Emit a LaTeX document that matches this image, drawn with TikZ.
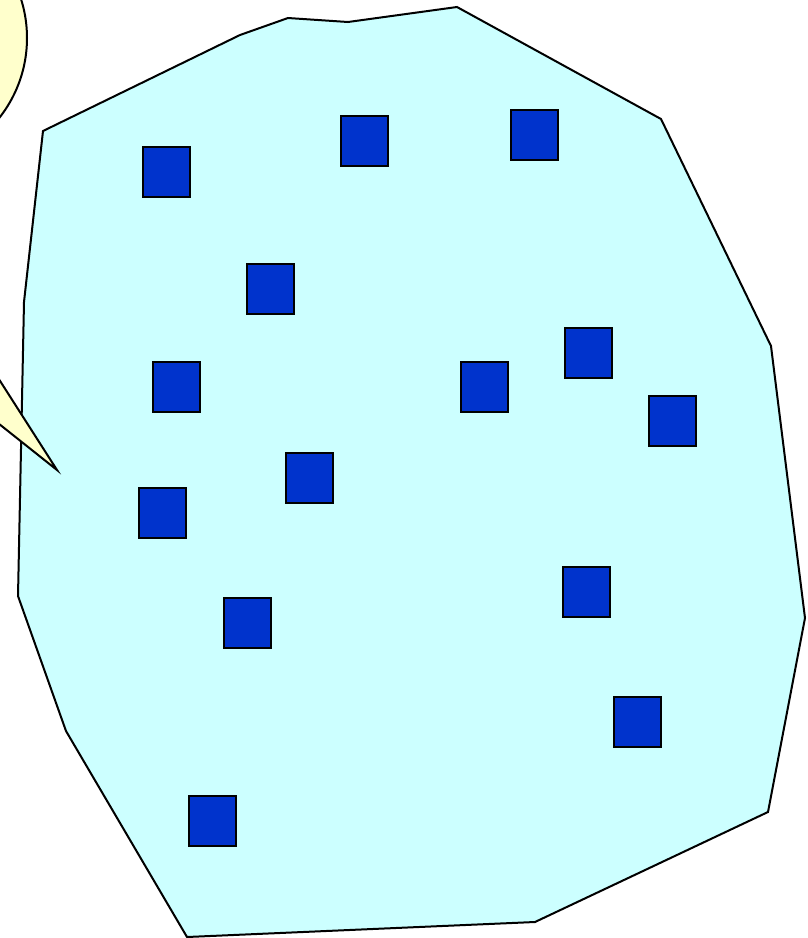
\documentclass[tikz,border=0pt]{standalone}
\definecolor{regioncyan}{HTML}{CCFFFF}
\definecolor{sqblue}{HTML}{0033CC}
\definecolor{calloutyellow}{HTML}{FFFFCC}
\tikzset{
  sq/.style={draw=black, line width=2pt, fill=sqblue, minimum width=47pt, minimum height=50pt, inner sep=0pt},
  region/.style={draw=black, line width=2pt, fill=regioncyan, line join=miter},
  bubble/.style={draw=black, line width=2pt, fill=calloutyellow, line join=miter}
}
\begin{document}
\begin{tikzpicture}[x=1pt,y=-1pt]
\useasboundingbox (0,0) rectangle (807,938);
\clip (0,0) rectangle (807,938);
% region
\draw[region] (43,131) -- (240,35) -- (288,18) -- (348,22) -- (457,7) -- (661,119) -- (771,346) -- (805,618) -- (768,812) -- (535,922) -- (187,937) -- (66,731) -- (18,596) -- (24,302) -- cycle;
% squares
\node[sq] (s1) at (166.5,172) {};
\node[sq] (s2) at (364.5,141) {};
\node[sq] (s3) at (534.5,135) {};
\node[sq] (s4) at (270.5,289) {};
\node[sq] (s5) at (176.5,387) {};
\node[sq] (s6) at (484.5,387) {};
\node[sq] (s7) at (588.5,353) {};
\node[sq] (s8) at (672.5,421) {};
\node[sq] (s9) at (309.5,478) {};
\node[sq] (s10) at (162.5,513) {};
\node[sq] (s11) at (247.5,623) {};
\node[sq] (s12) at (586.5,592) {};
\node[sq] (s13) at (637.5,722) {};
\node[sq] (s14) at (212.5,821) {};
% callout
\coordinate (tip) at (57,470);
\draw[bubble] (-102,38) circle[radius=129];
\draw[bubble] (-60,287) -- (tip) -- (-60,377) -- cycle;
\end{tikzpicture}
\end{document}
